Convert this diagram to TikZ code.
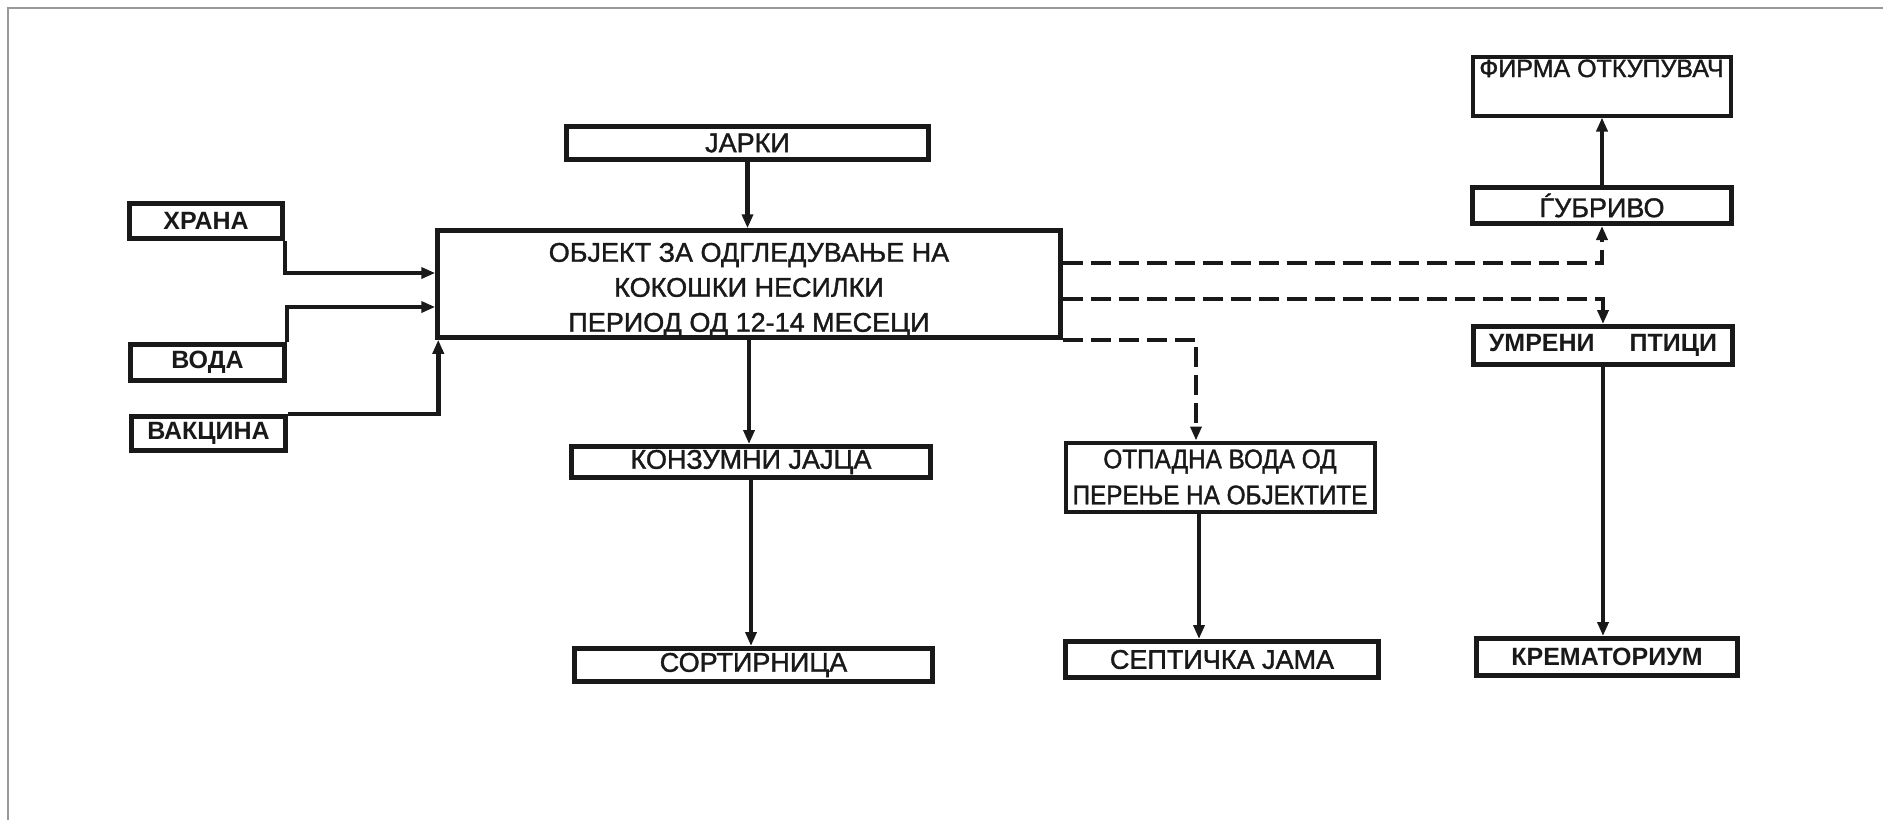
\documentclass[tikz,border=0pt]{standalone}
\usepackage{fontspec}
\setmainfont{Liberation Sans}
\newfontfamily\medfont[FakeBold=1.3]{Liberation Sans}
\newfontfamily\otpfont[FakeStretch=0.9,FakeBold=1.3]{Liberation Sans}
\usetikzlibrary{arrows.meta}
\begin{document}
\begin{tikzpicture}[x=1pt,y=-1pt,
  box/.style={draw=black!90, line width=5pt, fill=white, inner sep=0pt, align=center, text=black!90},
  bfont/.style={font=\bfseries\fontsize{25}{35}\selectfont},
  rfont/.style={font=\medfont\fontsize{27}{35}\selectfont},
  arr/.style={line width=4.5pt, draw=black!90, -{Triangle[length=14pt,width=11pt]}},
  darr/.style={arr, dash pattern=on 20pt off 8pt},
  frame/.style={draw=black!40, line width=2pt}]
\useasboundingbox (0,0) rectangle (1883,820);
\fill[white] (0,0) rectangle (1883,820);
\draw[frame] (8,820) -- (8,8) -- (1883,8);
% boxes
\node[box, bfont, minimum width=153pt, minimum height=35pt] (hrana) at (206,221) {ХРАНА};
\node[box, bfont, minimum width=154pt, minimum height=36pt] (voda) at (207.5,362.5) {ВОДА};
\node[box, bfont, minimum width=154pt, minimum height=34pt] (vakcina) at (208.5,433.5) {ВАКЦИНА};
\node[box, rfont, minimum width=362pt, minimum height=33pt] (jarki) at (747.5,143) {ЈАРКИ};
\node[box, line width=4.5pt, minimum width=623pt, minimum height=107pt] (main) at (749,284) {};
\node[rfont, align=center, text=black!90, inner sep=0pt] (maintext) at (749,290)
  {ОБЈЕКТ ЗА ОДГЛЕДУВАЊЕ НА\\КОКОШКИ НЕСИЛКИ\\ПЕРИОД ОД 12-14 МЕСЕЦИ};
\node[box, rfont, minimum width=359pt, minimum height=31pt] (konz) at (751,462) {КОНЗУМНИ ЈАЈЦА};
\node[box, rfont, minimum width=358pt, minimum height=33pt] (sort) at (753.5,665) {СОРТИРНИЦА};
\node[box, font=\otpfont\fontsize{27}{36}\selectfont, line width=4pt, minimum width=309pt, minimum height=69pt] (otp) at (1220,477)
  {ОТПАДНА ВОДА ОД\\ПЕРЕЊЕ НА ОБЈЕКТИТЕ};
\node[box, rfont, minimum width=313pt, minimum height=36pt] (sept) at (1222,659.5) {СЕПТИЧКА ЈАМА};
\node[box, line width=4pt, minimum width=258pt, minimum height=59pt] (firma) at (1601.5,86) {};
\node[font=\medfont\fontsize{25}{30}\selectfont, text=black!90, anchor=base, inner sep=0pt] (firmat) at (1601.5,77) {ФИРМА ОТКУПУВАЧ};
\node[box, rfont, minimum width=259pt, minimum height=36pt] (gub) at (1602,205.5) {ЃУБРИВО};
\node[box, bfont, minimum width=259pt, minimum height=38pt] (umr) at (1603,345.5) {УМРЕНИ\hspace{35pt}ПТИЦИ};
\node[box, bfont, minimum width=261pt, minimum height=37pt] (krem) at (1607,657) {КРЕМАТОРИУМ};
% connectors
\draw[arr] (jarki.south) -- (jarki.south |- main.north);
\draw[arr] (hrana.south east) |- ([yshift=11pt]main.west);
\draw[arr] (voda.north east) |- ([yshift=-23pt]main.west);
\draw[arr] (vakcina.north east) -| ([xshift=3pt]main.south west);
\draw[arr] (main.south) -- (main.south |- konz.north);
\draw[arr] (konz.south) -- (konz.south |- sort.north);
\draw[darr] ([yshift=21pt]main.east) -| (gub.south);
\draw[darr] ([yshift=-15pt]main.east) -| (umr.north);
\draw[darr] (main.south east) -| ([xshift=-24pt]otp.north);
\draw[arr] ([xshift=-21pt]otp.south) -- ([xshift=-21pt]otp.south |- sept.north);
\draw[arr] (gub.north) -- (gub.north |- firma.south);
\draw[arr] (umr.south) -- (umr.south |- krem.north);
\end{tikzpicture}
\end{document}
